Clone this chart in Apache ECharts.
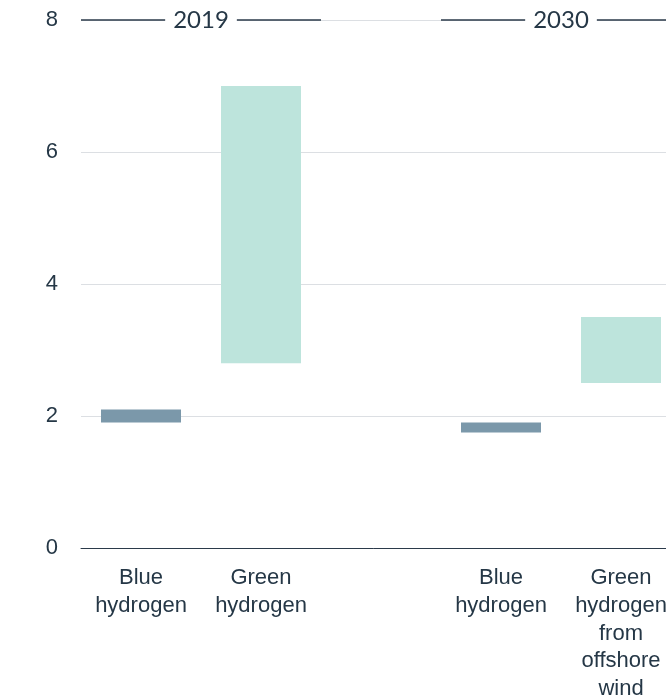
<!DOCTYPE html>
<html>
<head>
<meta charset="utf-8">
<script src="https://cdn.jsdelivr.net/npm/echarts@6/dist/echarts.min.js"></script>
<style>
html,body{margin:0;padding:0;background:#fff;}
#chart{width:666px;height:698px;}
</style>
</head>
<body>
<div id="chart"></div>
<script>
const categories = ['Blue\nhydrogen', 'Green\nhydrogen', '', 'Blue\nhydrogen', 'Green\nhydrogen\nfrom\noffshore\nwind'];
const lowValues = [1.9, 2.8, null, 1.75, 2.5];
const highValues = [2.1, 7.0, null, 1.9, 3.5];
const barColors = ['#7b98aa', '#bde4dc', null, '#7b98aa', '#bde4dc'];
const yTicks = [0, 2, 4, 6, 8];
const groupLabels = ['2019', '2030'];
const groupStart = [0, 3];
const groupEnd = [1, 4];

const textColor = '#253746';
const labelFont = "'Liberation Sans', Arial, sans-serif";
const chart = echarts.init(document.getElementById('chart'), null, {renderer: 'canvas'});

const rangeValues = lowValues.map((v, i) => (v == null ? null : +(highValues[i] - v).toFixed(4)));

chart.setOption({
  animation: false,
  grid: {left: 81, right: -15, top: 20, bottom: 150, containLabel: false, outerBoundsMode: 'none'},
  xAxis: {
    type: 'category',
    data: categories,
    axisLine: {lineStyle: {color: '#2b3a4a', width: 1}},
    axisTick: {show: false},
    axisLabel: {
      interval: 0,
      color: textColor,
      fontFamily: labelFont,
      fontSize: 22,
      lineHeight: 27.8,
      margin: 16
    }
  },
  yAxis: {
    type: 'value',
    min: yTicks[0],
    max: yTicks[yTicks.length - 1],
    interval: 2,
    axisLine: {show: false},
    axisTick: {show: false},
    splitLine: {lineStyle: {color: '#dcdfe3', width: 1}},
    axisLabel: {
      color: textColor,
      fontFamily: labelFont,
      fontSize: 22,
      margin: 23
    }
  },
  series: [
    {
      type: 'bar',
      stack: 'range',
      data: lowValues,
      barWidth: 80,
      itemStyle: {color: 'rgba(0,0,0,0)'},
      silent: true
    },
    {
      type: 'bar',
      stack: 'range',
      barWidth: 80,
      data: rangeValues.map((v, i) => ({value: v, itemStyle: {color: barColors[i]}}))
    }
  ]
});

// group headers
const graphics = [];
const c0 = chart.convertToPixel({xAxisIndex: 0}, 0);
const c1 = chart.convertToPixel({xAxisIndex: 0}, 1);
const band = c1 - c0;
const yTop = chart.convertToPixel({yAxisIndex: 0}, yTicks[yTicks.length - 1]);
groupLabels.forEach((label, g) => {
  const x1 = chart.convertToPixel({xAxisIndex: 0}, groupStart[g]) - band / 2;
  const x2 = chart.convertToPixel({xAxisIndex: 0}, groupEnd[g]) + band / 2;
  graphics.push({
    type: 'line',
    shape: {x1: x1, y1: yTop, x2: x2, y2: yTop},
    style: {stroke: '#2b3a4a', lineWidth: 1.5},
    z: 10
  });
  graphics.push({
    type: 'text',
    x: (x1 + x2) / 2,
    y: yTop,
    style: {
      text: label,
      fill: textColor,
      font: '24px Lato, sans-serif',
      align: 'center',
      verticalAlign: 'middle',
      backgroundColor: '#fff',
      padding: [2, 8, 2, 8]
    },
    z: 11
  });
});
chart.setOption({graphic: graphics});
</script>
</body>
</html>
